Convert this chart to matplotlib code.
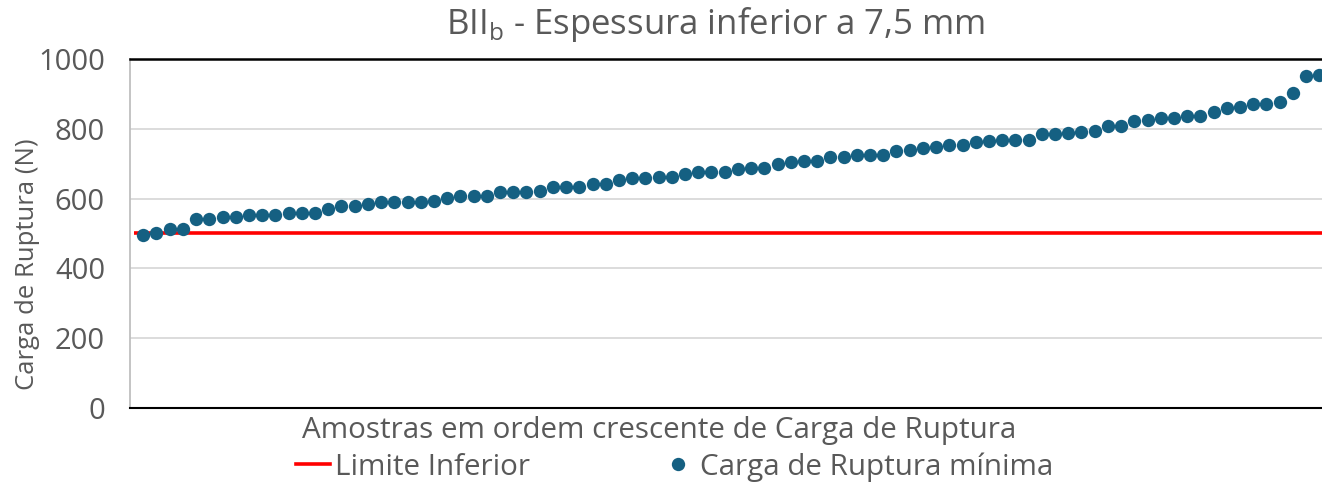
import matplotlib
matplotlib.use("Agg")
import matplotlib.pyplot as plt
from matplotlib.lines import Line2D
import numpy as np

# Data
carga = [496, 502, 514, 514, 542, 542, 548, 548, 553, 553, 553, 559, 559, 559, 571,
         579, 579, 584, 589, 589, 589, 589, 594, 601, 607, 607, 607, 619, 619, 619,
         623, 634, 634, 634, 641, 641, 653, 658, 658, 663, 663, 670, 677, 677, 677,
         684, 687, 687, 698, 704, 709, 709, 720, 720, 725, 725, 725, 737, 739, 744,
         747, 754, 754, 763, 766, 768, 768, 768, 785, 785, 789, 791, 795, 809, 809,
         822, 825, 830, 830, 837, 837, 847, 859, 863, 870, 870, 876, 903, 951, 954]
amostras = list(range(1, len(carga) + 1))
limite_x = [0.3, 91.0]
limite_y = [500, 500]
yticks = [0, 200, 400, 600, 800, 1000]

title = "BII$_\\mathregular{b}$ - Espessura inferior a 7,5 mm"
xlabel = "Amostras em ordem crescente de Carga de Ruptura"
ylabel = "Carga de Ruptura (N)"
leg_labels = ["Limite Inferior", "Carga de Ruptura mínima"]

plt.rcParams['font.family'] = ['Open Sans', 'DejaVu Sans']
TXT = "#595959"
BLUE = "#156082"

W, H = 1322, 486
fig = plt.figure(figsize=(W / 100, H / 100), dpi=100)
ax = fig.add_axes([130 / W, 1 - 408 / H, (W - 130) / W, (408 - 59) / H])

ax.plot(limite_x, limite_y, color="#ff0000", lw=2.6, solid_capstyle="butt", zorder=3)
ax.plot(amostras, carga, linestyle="none", marker="o", markersize=9.6,
        color=BLUE, markeredgewidth=0, zorder=4, clip_on=False)

ax.set_xlim(0, 90.2)
ax.set_ylim(0, 1000)
ax.set_yticks(yticks)
ax.set_xticks([])
ax.grid(axis="y", color="#d9d9d9", lw=1.3)
ax.set_axisbelow(True)
ax.spines["right"].set_visible(False)
ax.spines["left"].set_color("#bfbfbf")
ax.spines["left"].set_linewidth(1.3)
ax.spines["bottom"].set_color("black")
ax.spines["bottom"].set_linewidth(1.5)
ax.spines["top"].set_color("black")
ax.spines["top"].set_linewidth(1.8)
ax.tick_params(axis="y", length=0, labelsize=21, labelcolor=TXT, pad=18)

fig.text(715 / W, 1 - 25 / H, title, ha="center", va="center", fontsize=25, color=TXT)
fig.text(659 / W, 1 - 430 / H, xlabel, ha="center", va="center", fontsize=21.3, color=TXT)
fig.text(28 / W, 1 - 264 / H, ylabel, ha="center", va="center", rotation=90, fontsize=18.5, color=TXT)

handles = [Line2D([], [], color="#ff0000", lw=2.6),
           Line2D([], [], linestyle="none", marker="o", markersize=9.6, color=BLUE, markeredgewidth=0)]
fig.legend(handles, leg_labels, loc="center", bbox_to_anchor=(674.5 / W, 1 - 467 / H), ncol=2,
           frameon=False, fontsize=21.3, labelcolor=TXT, handlelength=1.15, handletextpad=0.17,
           columnspacing=4.44, borderpad=0, borderaxespad=0)

fig.savefig("out.png", dpi=100)
